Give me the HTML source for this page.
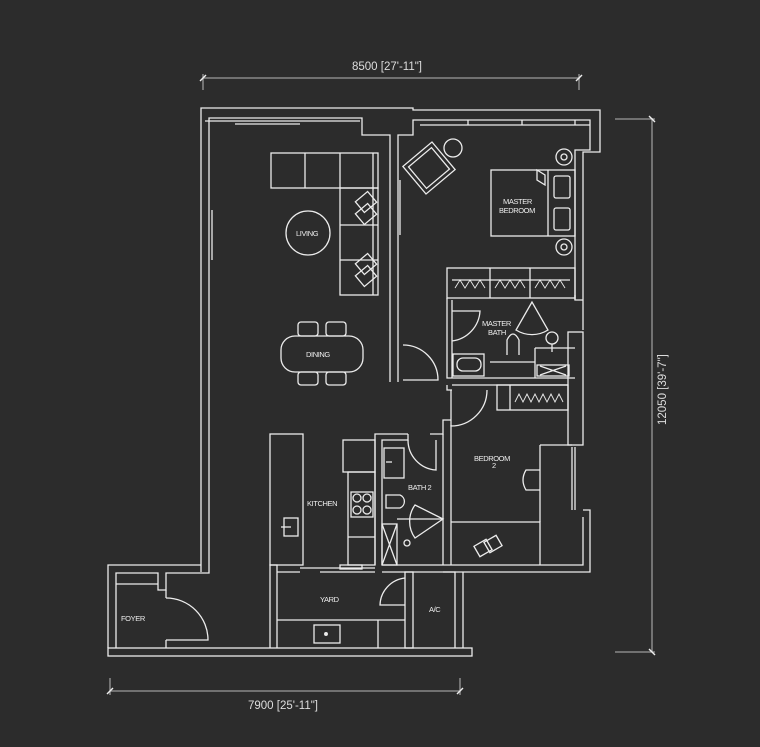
<!DOCTYPE html>
<html><head><meta charset="utf-8"><style>
html,body{margin:0;padding:0;background:#2c2c2c;}
svg{display:block}
text{font-family:"Liberation Sans",sans-serif;fill:#eee;font-size:7.5px;letter-spacing:-0.4px;}
.d text{font-size:11.5px;fill:#ddd;letter-spacing:0}
</style></head><body>
<svg width="760" height="747" viewBox="0 0 760 747" xmlns="http://www.w3.org/2000/svg">
<rect width="760" height="747" fill="#2c2c2c"/>
<!-- dimensions -->
<g stroke="#9a9a9a" stroke-width="1.3" fill="none">
<line x1="203" y1="78" x2="580" y2="78"/><line x1="203" y1="74" x2="203" y2="90"/><line x1="579" y1="74" x2="579" y2="90"/>
<line x1="652" y1="118" x2="652" y2="652"/><line x1="615" y1="119" x2="655" y2="119"/><line x1="615" y1="652" x2="655" y2="652"/>
<line x1="110" y1="691" x2="460" y2="691"/><line x1="110" y1="678" x2="110" y2="695"/><line x1="460" y1="678" x2="460" y2="695"/>
</g>
<g stroke="#eee" stroke-width="1.4">
<line x1="200" y1="81" x2="206" y2="75"/><line x1="576" y1="81" x2="582" y2="75"/>
<line x1="649" y1="116" x2="655" y2="122"/><line x1="649" y1="649" x2="655" y2="655"/>
<line x1="107" y1="694" x2="113" y2="688"/><line x1="457" y1="694" x2="463" y2="688"/>
</g>
<g class="d">
<text x="352" y="70">8500 [27'-11"]</text>
<text x="248" y="709">7900 [25'-11"]</text>
<text transform="translate(666,425) rotate(-90)">12050 [39'-7"]</text>
</g>
<g stroke="#ececec" stroke-width="1.3" fill="none">
<polyline points="201,572 201,108 362,108"/>
<polyline points="209,565 209,118 362,118 362,135 390,135 390,382"/>
<polyline points="362,108 413,108 413,110 600,110 600,152 583,152 583,330"/>
<polyline points="398,382 398,135 413,135 413,120 590,120 590,150 575,150 575,300"/>
<line x1="205" y1="121" x2="360" y2="121"/><line x1="235" y1="124" x2="300" y2="124"/>
<line x1="212" y1="210" x2="212" y2="260"/><line x1="400" y1="180" x2="400" y2="235"/>
<line x1="420" y1="125" x2="590" y2="125"/>
<line x1="468" y1="120" x2="468" y2="125"/><line x1="522" y1="120" x2="522" y2="125"/><line x1="575" y1="120" x2="575" y2="125"/>
<polyline points="108,648 108,565 201,565"/>
<polyline points="116,648 116,573 158,573 158,590 166,590 166,573 209,573 209,565"/>
<line x1="116" y1="584" x2="158" y2="584"/>
<polyline points="166,590 166,598"/><line x1="166" y1="640" x2="166" y2="648"/>
<path d="M166,598 A42,42 0 0 1 208,640 L166,640"/>
<rect x="108" y="648" width="364" height="8"/>
<polyline points="270,648 270,565 277,565 277,648"/>
<rect x="270" y="434" width="33" height="131"/>
<rect x="284" y="518" width="14" height="18"/><line x1="281" y1="527" x2="291" y2="527"/>
<line x1="277" y1="572" x2="300" y2="572"/><line x1="300" y1="568" x2="375" y2="568"/><line x1="320" y1="572" x2="375" y2="572"/>
<rect x="340" y="565" width="22" height="4"/>
<rect x="343" y="440" width="32" height="32"/>
<rect x="348" y="472" width="27" height="93"/>
<rect x="351" y="492" width="22" height="25"/>
<circle cx="357" cy="498" r="4"/><circle cx="367" cy="498" r="4"/><circle cx="357" cy="510" r="4"/><circle cx="367" cy="510" r="4"/>
<line x1="348" y1="537" x2="375" y2="537"/>
<polyline points="375,565 375,434 408,434"/><polyline points="382,565 382,440 408,440 408,434"/>
<polyline points="430,434 443,434 443,420 451,420"/>
<rect x="384" y="448" width="20" height="30"/><line x1="386" y1="462" x2="392" y2="462"/>
<path d="M408,440 A30,30 0 0 0 436,470 L436,440"/>
<path d="M386,495 L386,508 L400,508 A7,7 0 0 0 400,495 Z"/>
<rect x="382" y="524" width="15" height="41"/><line x1="382" y1="524" x2="397" y2="565"/><line x1="397" y1="524" x2="382" y2="565"/>
<line x1="397" y1="519" x2="443" y2="519"/>
<path d="M443,519 L415,505 A28,28 0 0 0 415,538 Z"/>
<circle cx="407" cy="543" r="3"/>
<line x1="382" y1="565" x2="443" y2="565"/><line x1="382" y1="572" x2="413" y2="572"/>
<line x1="277" y1="620" x2="405" y2="620"/>
<rect x="314" y="625" width="26" height="18"/><circle cx="326" cy="634" r="1.3" fill="#eee"/>
<line x1="378" y1="620" x2="378" y2="648"/>
<rect x="405" y="572" width="8" height="76"/>
<path d="M405,578 A28,28 0 0 0 380,605 L405,605"/>
<polyline points="413,572 455,572 455,648"/><line x1="463" y1="572" x2="463" y2="648"/>
<polyline points="443,565 443,434"/><polyline points="451,565 451,425"/>
<polyline points="443,565 583,565 583,517"/><polyline points="443,572 590,572 590,510 583,510"/>
<polyline points="572,447 572,510"/><line x1="575" y1="447" x2="575" y2="510"/>
<polyline points="451,522 540,522 540,565"/><line x1="540" y1="445" x2="572" y2="445"/><line x1="540" y1="445" x2="540" y2="522"/>
<path d="M540,470 L526,470 Q520,480 526,490 L540,490"/>
<rect x="476" y="542" width="14" height="12" transform="rotate(-30 483 548)"/>
<rect x="486" y="538" width="14" height="12" transform="rotate(-30 493 544)"/>
<polyline points="583,300 575,300 575,295"/>
<rect x="568" y="332" width="15" height="113"/>
<rect x="447" y="268" width="128" height="30"/>
<line x1="452" y1="280" x2="570" y2="280"/>
<line x1="490" y1="268" x2="490" y2="298"/><line x1="530" y1="268" x2="530" y2="298"/>
<path d="M455,288 l5,-8 l5,8 l5,-8 l5,8 l5,-8 l5,8 M495,288 l5,-8 l5,8 l5,-8 l5,8 l5,-8 l5,8 M535,288 l5,-8 l5,8 l5,-8 l5,8 l5,-8 l5,8" stroke-width="0.9"/>
<rect x="491" y="170" width="84" height="66"/><line x1="548" y1="170" x2="548" y2="236"/>
<path d="M537,170 L537,180 L545,185 L545,175 Z"/>
<rect x="554" y="176" width="16" height="22" rx="2"/><rect x="554" y="208" width="16" height="22" rx="2"/>
<circle cx="564" cy="157" r="8"/><circle cx="564" cy="157" r="3"/>
<circle cx="564" cy="247" r="8"/><circle cx="564" cy="247" r="3"/>
<rect x="410" y="150" width="38" height="36" transform="rotate(-40 429 168)"/>
<rect x="414" y="154" width="30" height="28" transform="rotate(-40 429 168)"/>
<circle cx="453" cy="148" r="9"/>
<polyline points="447,298 447,378 575,378"/><line x1="452" y1="300" x2="452" y2="378"/>
<line x1="452" y1="385" x2="568" y2="385"/><polyline points="447,385 447,390 452,390"/>
<path d="M452,341 A32,32 0 0 0 480,311 L452,311"/>
<rect x="453" y="354" width="31" height="22"/><rect x="457" y="358" width="24" height="13" rx="6"/>
<path d="M507,355 L507,340 Q513,328 519,340 L519,355"/>
<line x1="490" y1="362" x2="535" y2="362"/><line x1="535" y1="348" x2="535" y2="378"/><line x1="535" y1="348" x2="575" y2="348"/>
<path d="M532,302 L516,330 A30,30 0 0 0 548,330 Z"/>
<circle cx="552" cy="338" r="6"/><line x1="552" y1="344" x2="552" y2="352"/>
<rect x="537" y="365" width="32" height="11"/><line x1="540" y1="366" x2="566" y2="375"/><line x1="566" y1="366" x2="540" y2="375"/>
<rect x="497" y="385" width="71" height="25"/><line x1="510" y1="385" x2="510" y2="410"/>
<path d="M515,402 l4,-8 l4,8 l4,-8 l4,8 l4,-8 l4,8 l4,-8 l4,8 l4,-8 l4,8 l4,-8 l4,8" stroke-width="0.9"/>
<path d="M403,345 A35,35 0 0 1 438,380 L403,380"/>
<path d="M487,390 A36,36 0 0 1 451,426 L451,390"/>
<rect x="271" y="153" width="107" height="35"/>
<line x1="305" y1="153" x2="305" y2="188"/><line x1="340" y1="153" x2="340" y2="188"/>
<rect x="340" y="188" width="38" height="107"/>
<line x1="340" y1="225" x2="378" y2="225"/><line x1="340" y1="260" x2="378" y2="260"/>
<line x1="373" y1="153" x2="373" y2="295"/>
<rect x="358" y="195" width="16" height="14" transform="rotate(-40 366 202)"/>
<rect x="358" y="207" width="16" height="14" transform="rotate(-40 366 214)"/>
<rect x="358" y="257" width="16" height="14" transform="rotate(-40 366 264)"/>
<rect x="358" y="269" width="16" height="14" transform="rotate(-40 366 276)"/>
<circle cx="308" cy="233" r="22"/>
<rect x="281" y="336" width="82" height="36" rx="14"/>
<rect x="298" y="322" width="20" height="14" rx="3"/><rect x="326" y="322" width="20" height="14" rx="3"/>
<rect x="298" y="372" width="20" height="13" rx="3"/><rect x="326" y="372" width="20" height="13" rx="3"/>
</g>
<text x="296" y="236">LIVING</text>
<text x="306" y="357">DINING</text>
<text x="503" y="204">MASTER</text>
<text x="499" y="213">BEDROOM</text>
<text x="482" y="326">MASTER</text>
<text x="488" y="335">BATH</text>
<text x="474" y="461">BEDROOM</text>
<text x="492" y="468">2</text>
<text x="408" y="490">BATH 2</text>
<text x="307" y="506">KITCHEN</text>
<text x="320" y="602">YARD</text>
<text x="429" y="612">A/C</text>
<text x="121" y="621">FOYER</text>
</svg>
</body></html>
